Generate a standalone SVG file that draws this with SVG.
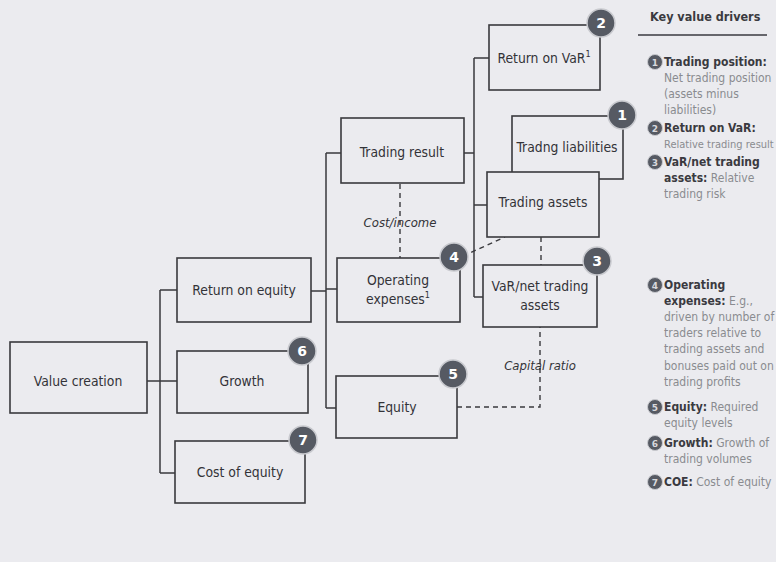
<svg xmlns="http://www.w3.org/2000/svg" width="776" height="562" viewBox="0 0 776 562">
  <style>
    .box { fill: #ebebef; stroke: #3a3a3e; stroke-width: 1.6; }
    .link { fill: none; stroke: #3a3a3e; stroke-width: 1.5; }
    .dash { fill: none; stroke: #3a3a3e; stroke-width: 1.4; stroke-dasharray: 5 4; }
    .lbl { font-family: "DejaVu Sans", "Liberation Sans", sans-serif; font-stretch: condensed; font-size: 13.8px; fill: #333338; text-anchor: middle; }
    .ital { font-family: "DejaVu Sans", "Liberation Sans", sans-serif; font-stretch: condensed; font-size: 13px; font-style: italic; fill: #333338; text-anchor: middle; }
    .badge circle { fill: #565a63; stroke: #c9cacf; stroke-width: 1.5; }
    .badge text { font-family: "DejaVu Sans", "Liberation Sans", sans-serif; font-size: 14px; font-weight: bold; fill: #ffffff; text-anchor: middle; }
    .key { font-family: "DejaVu Sans", "Liberation Sans", sans-serif; font-stretch: condensed; font-size: 12px; fill: #8a8b90; }
    .key.sm { font-size: 11px; }
    .key .b { font-weight: bold; fill: #3a3a40; }
    .kb circle { fill: #565a63; stroke: #c9cacf; stroke-width: 1; }
    .kb text { font-family: "DejaVu Sans", "Liberation Sans", sans-serif; font-size: 9px; font-weight: bold; fill: #d8d8dc; text-anchor: middle; }
    .head { font-family: "DejaVu Sans", "Liberation Sans", sans-serif; font-stretch: condensed; font-size: 12.5px; font-weight: bold; fill: #3a3a40; }
  </style>
  <rect x="0" y="0" width="776" height="562" fill="#ebebef"/>

  <!-- tree connectors -->
  <g id="connectors">
    <path class="link" d="M147 381 H160 M160 290 V473 M160 290 H177 M160 381 H177 M160 473 H175"/>
    <path class="link" d="M311 291 H326 M326 153 V408 M326 153 H341 M326 289 H337 M326 408 H336"/>
    <path class="link" d="M464 153 H474 M474 58 V297 M474 58 H489 M474 205 H487 M474 297 H483"/>
    <path class="dash" d="M400 184 V258"/>
    <path class="dash" d="M463 256 L505 237"/>
    <path class="dash" d="M541 237 V265"/>
    <path class="dash" d="M457 407 H540 V327"/>
    <text class="ital" x="400" y="227">Cost/income</text>
    <text class="ital" x="540" y="370">Capital ratio</text>
  </g>

  <g id="value-creation">
    <rect class="box" x="10" y="342" width="137" height="71"/>
    <text class="lbl" x="78" y="386">Value creation</text>
  </g>

  <g id="return-on-equity">
    <rect class="box" x="177" y="258" width="134" height="64"/>
    <text class="lbl" x="244" y="295">Return on equity</text>
  </g>

  <g id="growth">
    <rect class="box" x="177" y="351" width="131" height="62"/>
    <text class="lbl" x="242" y="386">Growth</text>
    <g class="badge"><circle cx="302" cy="351" r="14"/><text x="302" y="356">6</text></g>
  </g>

  <g id="cost-of-equity">
    <rect class="box" x="175" y="441" width="130" height="62"/>
    <text class="lbl" x="240" y="477">Cost of equity</text>
    <g class="badge"><circle cx="303" cy="440" r="14"/><text x="303" y="445">7</text></g>
  </g>

  <g id="trading-result">
    <rect class="box" x="341" y="118" width="123" height="65"/>
    <text class="lbl" x="402" y="157">Trading result</text>
  </g>

  <g id="operating-expenses">
    <rect class="box" x="337" y="258" width="123" height="64"/>
    <text class="lbl" x="398" y="285">Operating</text>
    <text class="lbl" x="398" y="304">expenses<tspan font-size="9" dy="-6">1</tspan></text>
    <g class="badge"><circle cx="454" cy="257" r="14"/><text x="454" y="262">4</text></g>
  </g>

  <g id="equity">
    <rect class="box" x="336" y="376" width="121" height="62"/>
    <text class="lbl" x="397" y="412">Equity</text>
    <g class="badge"><circle cx="453" cy="374" r="14"/><text x="453" y="379">5</text></g>
  </g>

  <g id="return-on-var">
    <rect class="box" x="489" y="25" width="111" height="65"/>
    <text class="lbl" x="544" y="63">Return on VaR<tspan font-size="9" dy="-6">1</tspan></text>
    <g class="badge"><circle cx="601" cy="23" r="14"/><text x="601" y="28">2</text></g>
  </g>

  <g id="trading-liabilities">
    <rect class="box" x="512" y="116" width="111" height="63"/>
    <text class="lbl" x="567" y="152">Tradng liabilities</text>
    <g class="badge"><circle cx="622" cy="115" r="14"/><text x="622" y="120">1</text></g>
  </g>

  <g id="trading-assets">
    <rect class="box" x="487" y="172" width="112" height="65"/>
    <text class="lbl" x="543" y="207">Trading assets</text>
  </g>

  <g id="var-net-trading-assets">
    <rect class="box" x="483" y="265" width="114" height="62"/>
    <text class="lbl" x="540" y="291">VaR/net trading</text>
    <text class="lbl" x="540" y="310">assets</text>
    <g class="badge"><circle cx="597" cy="261" r="14"/><text x="597" y="266">3</text></g>
  </g>

  <!-- key value drivers legend -->
  <g id="legend">
    <text class="head" x="650" y="21">Key value drivers</text>
    <line x1="638" y1="35" x2="767" y2="35" stroke="#3a3a40" stroke-width="1.5"/>

    <g class="kb"><circle cx="655" cy="62" r="7.5"/><text x="655" y="65.5">1</text></g>
    <text class="key" x="664" y="66"><tspan class="b">Trading position:</tspan></text>
    <text class="key" x="664" y="82">Net trading position</text>
    <text class="key" x="664" y="98">(assets minus</text>
    <text class="key" x="664" y="114">liabilities)</text>

    <g class="kb"><circle cx="655" cy="128" r="7.5"/><text x="655" y="131.5">2</text></g>
    <text class="key" x="664" y="132"><tspan class="b">Return on VaR:</tspan></text>
    <text class="key sm" x="664" y="148">Relative trading result</text>

    <g class="kb"><circle cx="655" cy="162" r="7.5"/><text x="655" y="165.5">3</text></g>
    <text class="key" x="664" y="166"><tspan class="b">VaR/net trading</tspan></text>
    <text class="key" x="664" y="182"><tspan class="b">assets:</tspan> Relative</text>
    <text class="key" x="664" y="198">trading risk</text>

    <g class="kb"><circle cx="655" cy="285" r="7.5"/><text x="655" y="288.5">4</text></g>
    <text class="key" x="664" y="289"><tspan class="b">Operating</tspan></text>
    <text class="key" x="664" y="305"><tspan class="b">expenses:</tspan> E.g.,</text>
    <text class="key" x="664" y="321">driven by number of</text>
    <text class="key" x="664" y="337">traders relative to</text>
    <text class="key" x="664" y="353">trading assets and</text>
    <text class="key" x="664" y="370">bonuses paid out on</text>
    <text class="key" x="664" y="386">trading profits</text>

    <g class="kb"><circle cx="655" cy="407" r="7.5"/><text x="655" y="410.5">5</text></g>
    <text class="key" x="664" y="411"><tspan class="b">Equity:</tspan> Required</text>
    <text class="key" x="664" y="427">equity levels</text>

    <g class="kb"><circle cx="655" cy="443" r="7.5"/><text x="655" y="446.5">6</text></g>
    <text class="key" x="664" y="447"><tspan class="b">Growth:</tspan> Growth of</text>
    <text class="key" x="664" y="463">trading volumes</text>

    <g class="kb"><circle cx="655" cy="482" r="7.5"/><text x="655" y="485.5">7</text></g>
    <text class="key" x="664" y="486"><tspan class="b">COE:</tspan> Cost of equity</text>
  </g>
</svg>
